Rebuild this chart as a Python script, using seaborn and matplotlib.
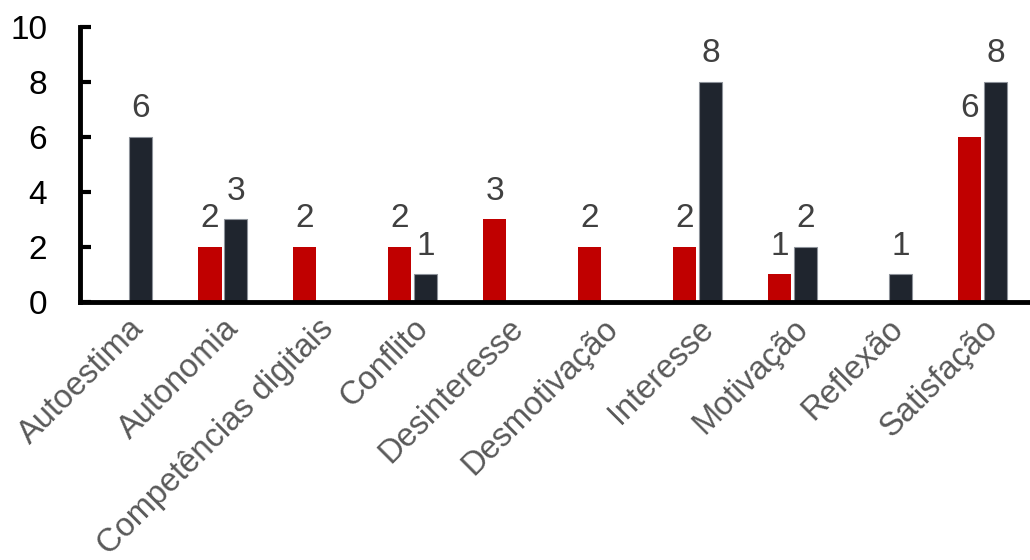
import matplotlib
matplotlib.use("Agg")
import matplotlib.pyplot as plt
import seaborn as sns
import pandas as pd

categories = ["Autoestima", "Autonomia", "Competências digitais", "Conflito",
              "Desinteresse", "Desmotivação", "Interesse", "Motivação",
              "Reflexão", "Satisfação"]
series_names = ["A", "B"]
values_red = [0, 2, 2, 2, 3, 2, 2, 1, 0, 6]
values_dark = [6, 3, 0, 1, 0, 0, 8, 2, 1, 8]
y_ticks = [0, 2, 4, 6, 8, 10]

df = pd.DataFrame({
    "categoria": categories * 2,
    "serie": [series_names[0]] * len(categories) + [series_names[1]] * len(categories),
    "valor": values_red + values_dark,
})

sns.set_theme(style="white")
plt.rcParams["font.family"] = ["Liberation Sans", "DejaVu Sans"]

fig = plt.figure(figsize=(10.3, 5.6), dpi=100)
ax = fig.add_axes([0.078, 0.461, 0.922, 0.491])

palette = {"A": "#c00000", "B": "#1f252e"}
sns.barplot(data=df, x="categoria", y="valor", hue="serie", order=categories,
            hue_order=series_names, palette=palette, width=0.54, gap=0.1,
            saturation=1, linewidth=0, legend=False, ax=ax, errorbar=None)

# hide empty bars, give dark bars a thin light outline
for cont, name in zip(ax.containers, series_names):
    for p in cont.patches:
        if p.get_height() == 0:
            p.set_visible(False)
        elif name == "B":
            p.set_edgecolor("#8d929a")
            p.set_linewidth(0.8)
    labels = [f"{int(v)}" if v > 0 else "" for v in cont.datavalues]
    ax.bar_label(cont, labels=labels, padding=9, fontsize=24, color="#404040")

ax.set_xlim(-0.5, 9.5)
ax.set_ylim(0, 10)
ax.set_yticks(y_ticks)
ax.set_xlabel("")
ax.set_ylabel("")

for side in ["top", "right"]:
    ax.spines[side].set_visible(False)
for side in ["left", "bottom"]:
    ax.spines[side].set_color("black")
    ax.spines[side].set_linewidth(3.5)

ax.tick_params(axis="y", direction="in", length=8, width=3, colors="black",
               labelsize=24, pad=24, left=True)
ax.tick_params(axis="x", length=0, labelsize=23.5, labelcolor="#595959", pad=8)
plt.setp(ax.get_xticklabels(), rotation=45, ha="right", rotation_mode="anchor")

fig.savefig("out.png", dpi=100)
